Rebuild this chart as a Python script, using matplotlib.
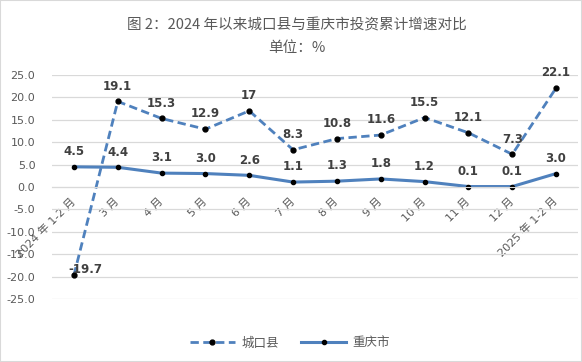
import matplotlib
matplotlib.use("Agg")
import matplotlib.pyplot as plt
from matplotlib.patches import Rectangle

plt.rcParams['font.family'] = ['DejaVu Sans', 'Noto Sans CJK SC']

# données
mois = ["2024 年 1-2 月", "3 月", "4 月", "5 月", "6 月", "7 月", "8 月",
        "9 月", "10 月", "11 月", "12 月", "2025 年 1-2 月"]
chengkou = [-19.7, 19.1, 15.3, 12.9, 17, 8.3, 10.8, 11.6, 15.5, 12.1, 7.3, 22.1]
chongqing = [4.5, 4.4, 3.1, 3.0, 2.6, 1.1, 1.3, 1.8, 1.2, 0.1, 0.1, 3.0]
yticks = [-25, -20, -15, -10, -5, 0, 5, 10, 15, 20, 25]

bleu = '#4F81BD'
gris = '#595959'

fig = plt.figure(figsize=(5.82, 3.62), dpi=100)
ax = fig.add_axes([52/582, 63/362, 526/582, 224/362])

# axe x sur la ligne zéro (avant de toucher aux étiquettes, sinon reset)
for s in ['top', 'right', 'left']:
    ax.spines[s].set_visible(False)
ax.spines['bottom'].set_position(('data', 0))
ax.spines['bottom'].set_color('#D9D9D9')

x = list(range(len(mois)))
ax.plot(x, chengkou, color=bleu, lw=2.0, ls=(0, (3, 1.6)), marker='o',
        ms=3.5, mfc='black', mec='black', label="城口县")
ax.plot(x, chongqing, color=bleu, lw=2.2, marker='o',
        ms=3, mfc='black', mec='black', label="重庆市")

# étiquettes
for i, v in enumerate(chengkou):
    off = (0, 11)
    if v < 0:
        off = (8.5, 4.5)
    ax.annotate(f"{v:g}", (i, v), xytext=off, textcoords='offset points',
                ha='center', va='center', fontsize=8.5, color='#404040',
                fontweight='bold')
for i, v in enumerate(chongqing):
    ax.annotate(f"{v:.1f}", (i, v), xytext=(0, 11), textcoords='offset points',
                ha='center', va='center', fontsize=8.5, color='#404040',
                fontweight='bold')

ax.set_xlim(-0.5, len(mois) - 0.5)
ax.set_ylim(-25, 25)
ax.set_yticks(yticks)
ax.set_yticklabels([f"{t:.1f}" for t in yticks], color=gris, fontsize=8)
ax.tick_params(axis='both', length=0)
ax.tick_params(axis='x', pad=9)
ax.tick_params(axis='y', pad=12)
ax.set_xticks(x)
ax.set_xticklabels(mois, color=gris, fontsize=8)
for lab in ax.get_xticklabels():
    lab.set_rotation(45)
    lab.set_ha('right')
    lab.set_va('center')
    lab.set_rotation_mode('anchor')
ax.grid(axis='y', color='#D9D9D9', lw=0.9)
ax.set_axisbelow(True)

fig.text(0.51, 0.931, "图 2：2024 年以来城口县与重庆市投资累计增速对比",
         ha='center', va='center', fontsize=10.5, color=gris,
         family=['Noto Sans CJK SC', 'DejaVu Sans'])
fig.text(0.51, 0.867, "单位：%", ha='center', va='center', fontsize=10.5,
         color=gris, family=['Noto Sans CJK SC', 'DejaVu Sans'])

leg = ax.legend(loc='center', bbox_to_anchor=(0.498, 0.0525),
                bbox_transform=fig.transFigure, ncol=2, frameon=False,
                prop={'family': ['Noto Sans CJK SC', 'DejaVu Sans'], 'size': 9},
                handlelength=3.6, columnspacing=1.8, handletextpad=0.5)
for t in leg.get_texts():
    t.set_color(gris)

fig.patches.append(Rectangle((0, 0), 1, 1, transform=fig.transFigure,
                             fill=False, edgecolor='#D9D9D9', lw=1.5))

fig.savefig("out.png", dpi=100)
